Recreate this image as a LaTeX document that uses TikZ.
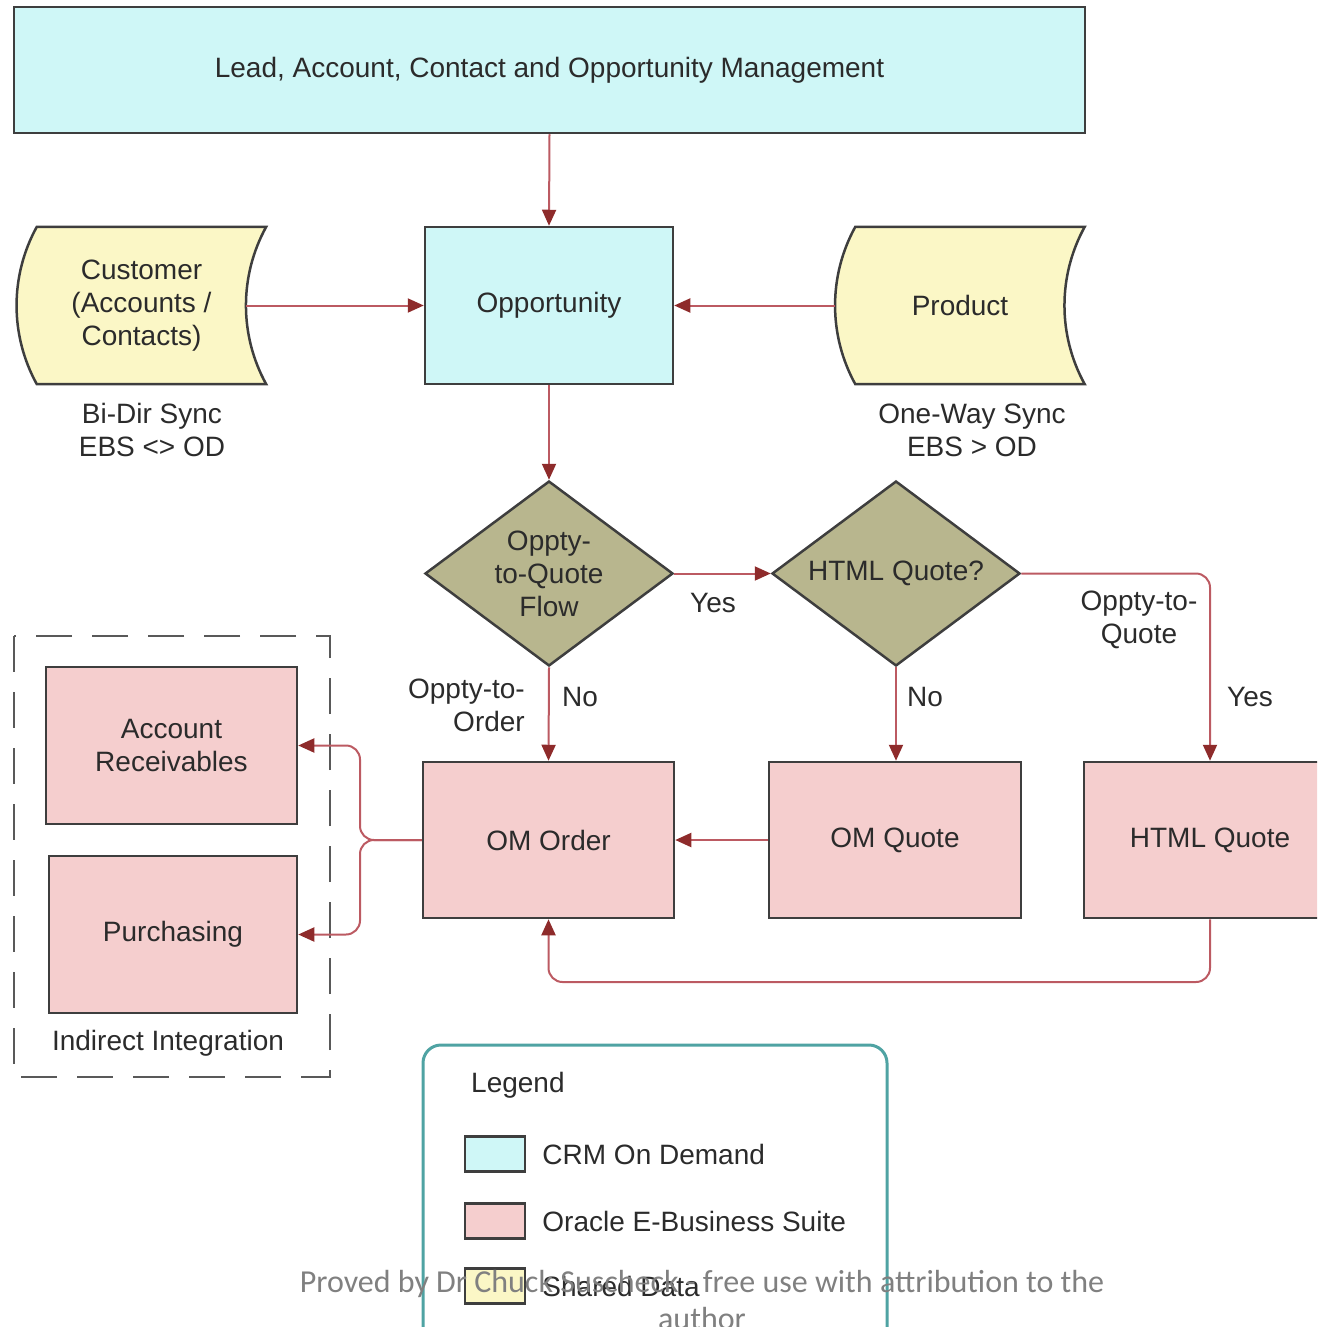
\documentclass[tikz,border=0pt]{standalone}
\usepackage{fontspec}
\setmainfont{Liberation Sans}
\newfontfamily\markfont{Carlito}
\usepackage{tikz}
\usetikzlibrary{shapes.geometric,arrows.meta,backgrounds}

\definecolor{crmcyan}{HTML}{CFF7F7}
\definecolor{ebspink}{HTML}{F5CECE}
\definecolor{sharedyellow}{HTML}{FBF7C6}
\definecolor{decolive}{HTML}{B8B68E}
\definecolor{edgegray}{HTML}{3E3E3E}
\definecolor{flowred}{HTML}{BC5A62}
\definecolor{tipred}{HTML}{8E2B2B}
\definecolor{legendteal}{HTML}{4FA3A3}
\definecolor{labelgray}{HTML}{2B2B2B}
\definecolor{markgray}{HTML}{808080}

\tikzstyle{every node}=[font=\fontsize{28}{33}\selectfont,text=labelgray,align=center,inner sep=0pt]
\tikzstyle{crmbox}=[draw=edgegray,line width=2.5pt,fill=crmcyan,minimum width=248pt,minimum height=157pt]
\tikzstyle{ebsbox}=[draw=edgegray,line width=2.5pt,fill=ebspink,minimum width=251pt,minimum height=156pt]
\tikzstyle{decision}=[diamond,shape aspect=1.34,draw=edgegray,line width=2.5pt,fill=decolive,minimum width=248pt,minimum height=185pt]
\tikzstyle{datanode}=[minimum width=249pt,minimum height=157pt]
\tikzstyle{datashape}=[draw=edgegray,line width=2.5pt,fill=sharedyellow]
\tikzstyle{flow}=[draw=flowred,line width=2pt,-{Triangle[length=16pt,width=14pt,color=tipred]},rounded corners=14pt]
\tikzstyle{swatch}=[draw=edgegray,line width=2.5pt,minimum width=60pt,minimum height=35pt]

% curved data symbol drawn round a named node
\newcommand\sharedshape[1]{%
  \draw[datashape] ([xshift=20pt]#1.north west) -- (#1.north east)
    .. controls ([xshift=-27pt,yshift=-49pt]#1.north east)
    and ([xshift=-27pt,yshift=49pt]#1.south east) .. (#1.south east)
    -- ([xshift=20pt]#1.south west)
    .. controls ([xshift=-7pt,yshift=49pt]#1.south west)
    and ([xshift=-7pt,yshift=-49pt]#1.north west) .. ([xshift=20pt]#1.north west) -- cycle;}

\begin{document}
\begin{tikzpicture}[x=1pt,y=-1pt]
    \useasboundingbox (0,0) rectangle (1317,1327);
    \clip (0,0) rectangle (1317,1327);

    % CRM On Demand
    \node[crmbox,minimum width=1071pt,minimum height=126pt] (lead) at (549.5,70)
        {Lead, Account, Contact and Opportunity Management};
    \node[crmbox] (opp) at (549,305.5) {Opportunity};

    % shared data
    \node[datanode] (cust) at (141.5,305.5) {Customer\\(Accounts /\\Contacts)};
    \node[datanode] (prod) at (960,305.5) {Product};
    \begin{scope}[on background layer]
        \sharedshape{cust}
        \sharedshape{prod}
    \end{scope}
    \node (custsync) at (152,430) {Bi-Dir Sync\\EBS <> OD};
    \node (prodsync) at (972,430) {One-Way Sync\\EBS > OD};

    % decisions
    \node[decision] (flowq) at (549,573.5) {Oppty-\\to-Quote\\Flow};
    \node[decision] (htmlq) at (896,573.5) {HTML Quote?};

    % Oracle E-Business Suite
    \node[ebsbox] (order) at (548.5,840) {OM Order};
    \node[ebsbox,minimum width=252pt] (quote) at (895,840) {OM Quote};
    \node[ebsbox,minimum width=252pt] (htmlquote) at (1210,840) {HTML Quote};
    \node[ebsbox,minimum height=157pt] (recv) at (171.5,745.5) {Account\\Receivables};
    \node[ebsbox,minimum width=248pt,minimum height=157pt] (purch) at (173,934.5) {Purchasing};

    \draw[draw=black!65,line width=2.5pt,dash pattern=on 36pt off 20pt] (14,636) rectangle (330,1077);
    \node (indirect) at (168,1043) {Indirect Integration};

    % connectors
    \draw[flow] (lead.south) -- (opp.north);
    \draw[flow] ([xshift=-20pt]cust.east) -- (opp.west);
    \draw[flow] (prod.west) -- (opp.east);
    \draw[flow] (opp.south) -- (flowq.north);
    \draw[flow] (flowq.east) -- (htmlq.west);
    \draw[flow] (flowq.south) -- (order.north);
    \draw[flow] (htmlq.south) -- (htmlq.south |- quote.north);
    \draw[flow] (htmlq.east) -| (htmlquote.north);
    \draw[flow] (quote.west) -- (order.east);
    \draw[flow] (htmlquote.south) -- (htmlquote.south |- 0,982) -| (order.south);
    \draw[flow] (order.west) -- (360,840) |- (recv.east);
    \draw[flow] (order.west) -- (360,840) |- (purch.east);

    \node (yes1) at (713,603) {Yes};
    \node (no1) at (580,697) {No};
    \node[anchor=east,align=right] (toorder) at (525,705) {Oppty-to-\\Order};
    \node (no2) at (925,697) {No};
    \node (toquote) at (1139,620) {Oppty-to-\\Quote};
    \node (yes2) at (1250,697) {Yes};

    % legend
    \node[draw=legendteal,line width=3pt,rounded corners=18pt,minimum width=464pt,minimum height=320pt] (legend) at (655,1205) {};
    \node[anchor=west] (legendtitle) at (471,1085) {Legend};
    \node[swatch,fill=crmcyan] (keycrm) at (495,1154) {};
    \node[swatch,fill=ebspink] (keyebs) at (495,1221) {};
    \node[swatch,fill=sharedyellow] (keyshared) at (495,1286) {};
    \node[anchor=west] at ([xshift=16pt]keycrm.east) {CRM On Demand};
    \node[anchor=west] at ([xshift=16pt]keyebs.east) {Oracle E-Business Suite};
    \node[anchor=west] at ([xshift=16pt]keyshared.east) {Shared Data};

    \node[font=\markfont\fontsize{32}{37}\selectfont,text=markgray] (mark) at (702,1300)
        {Proved by Dr Chuck Suscheck - free use with attribution to the\\author};
\end{tikzpicture}
\end{document}
